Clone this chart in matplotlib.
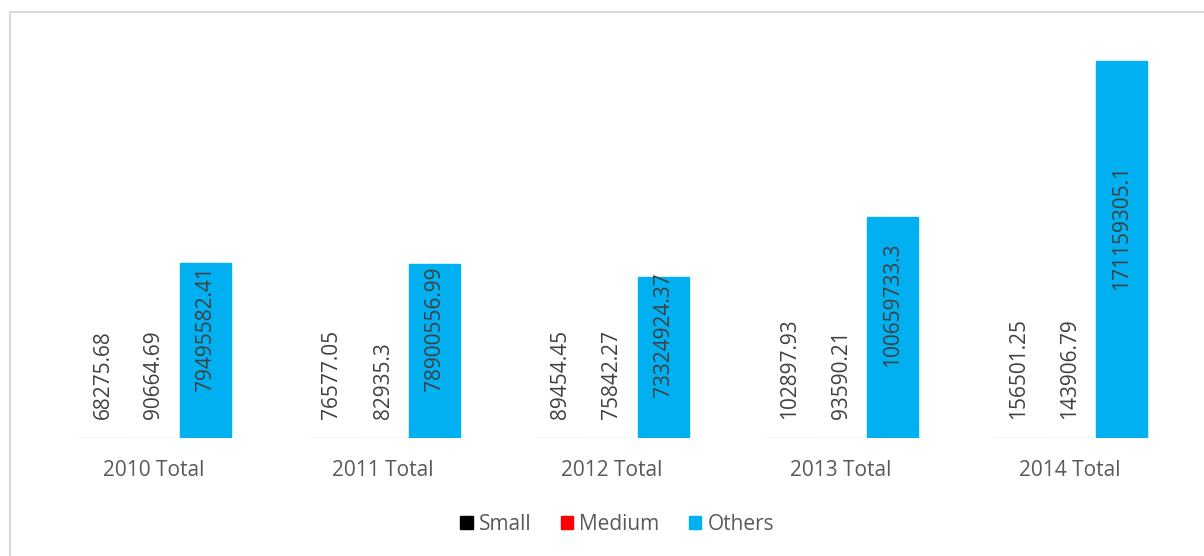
import matplotlib
matplotlib.use("Agg")
import matplotlib.pyplot as plt
from matplotlib.patches import Rectangle, Patch
from matplotlib.colors import to_rgba
import numpy as np

# === 資料 ===
categories = ["2010 Total", "2011 Total", "2012 Total", "2013 Total", "2014 Total"]
small = [68275.68, 76577.05, 89454.45, 102897.93, 156501.25]
medium = [90664.69, 82935.3, 75842.27, 93590.21, 143906.79]
others = [79495582.41, 78900556.99, 73324924.37, 100659733.3, 171159305.1]

series = [("Small", small, "#000000"), ("Medium", medium, "#ff0000"), ("Others", others, "#00b0f0")]

plt.rcParams['font.family'] = ['Open Sans', 'DejaVu Sans']

fig = plt.figure(figsize=(12.04, 5.56), dpi=100)
ax = fig.add_axes([39.5 / 1204, 118 / 556, 1145 / 1204, 396 / 556])

# 外框（右邊與下邊超出畫面）
fig.patches.append(Rectangle((9.5 / 1204, -0.5), 1.2, 1.5 - 11.5 / 556, transform=fig.transFigure,
                             fill=False, edgecolor="#d9d9d9", linewidth=1.5))

x = np.arange(len(categories))
width = 0.223

for i, (name, vals, color) in enumerate(series):
    pos = x + (i - 1) * width
    edge = color if name == "Others" else to_rgba(color, 0.22)
    ax.bar(pos, vals, width, color=color, edgecolor=edge, linewidth=1.0)
    for p, v in zip(pos, vals):
        label = f"{v:.2f}".rstrip("0").rstrip(".")
        if name == "Others":
            # 大數值標籤放在柱子中間
            ax.annotate(label, (p, v / 2), xytext=(0, 16), textcoords="offset points",
                        rotation=90, ha="center", va="center", fontsize=15, color="#404040")
        else:
            ax.annotate(label, (p, v), xytext=(0, 13.5), textcoords="offset points",
                        rotation=90, ha="center", va="bottom", fontsize=15, color="#404040")

ax.set_xlim(-0.5, len(categories) - 0.5)
ax.set_ylim(0, 180000000)
ax.set_xticks(x)
ax.set_xticklabels(categories, fontsize=15, color="#595959")
ax.tick_params(axis="x", length=0, pad=16)
ax.set_yticks([])
for s in ax.spines.values():
    s.set_visible(False)

handles = [Patch(facecolor=c, edgecolor=c, label=n) for n, _, c in series]
leg = fig.legend(handles=handles, loc="center", bbox_to_anchor=(617 / 1204, 1 - 524 / 556), ncol=3,
                 frameon=False, fontsize=15, handlelength=0.6, handleheight=0.6,
                 handletextpad=0.3, columnspacing=1.4)
for t in leg.get_texts():
    t.set_color("#595959")

plt.savefig("out.png", dpi=100)
